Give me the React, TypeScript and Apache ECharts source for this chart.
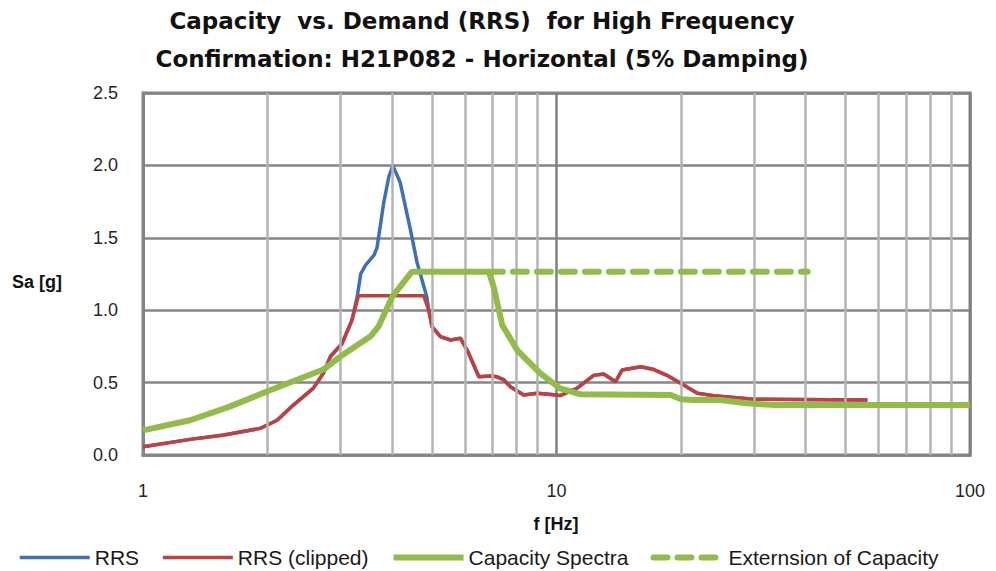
import React, { useEffect, useRef } from "react";
import * as echarts from "echarts";

// RRS (unclipped) response spectrum
const rrsFreq = [1.0, 1.3, 1.57, 1.92, 2.0, 2.11, 2.31, 2.58, 2.73, 2.84, 3.03, 3.2, 3.3, 3.36, 3.45, 3.62, 3.68, 3.82, 3.93, 4.02, 4.19, 4.43, 4.6, 4.86, 4.91, 5.0, 5.24, 5.54, 5.86, 6.08, 6.49, 6.92, 7.18, 7.45, 7.75, 8.33, 8.98, 10.0, 10.2, 11.2, 12.3, 13.0, 13.9, 14.4, 16.0, 17.2, 18.5, 20.3, 21.9, 24.0, 30.0, 56.5];
const rrsVal = [0.057, 0.108, 0.138, 0.184, 0.207, 0.24, 0.345, 0.46, 0.564, 0.68, 0.77, 0.93, 1.1, 1.25, 1.31, 1.38, 1.43, 1.74, 1.92, 2.0, 1.88, 1.56, 1.33, 1.09, 1.0, 0.886, 0.817, 0.794, 0.806, 0.725, 0.54, 0.545, 0.54, 0.52, 0.47, 0.414, 0.426, 0.414, 0.41, 0.46, 0.55, 0.56, 0.506, 0.587, 0.61, 0.59, 0.55, 0.483, 0.426, 0.41, 0.385, 0.38];

// RRS clipped
const clipFreq = [1.0, 1.3, 1.57, 1.92, 2.0, 2.11, 2.31, 2.58, 2.73, 2.84, 3.03, 3.2, 3.32, 4.77, 4.91, 5.0, 5.24, 5.54, 5.86, 6.08, 6.49, 6.92, 7.18, 7.45, 7.75, 8.33, 8.98, 10.0, 10.2, 11.2, 12.3, 13.0, 13.9, 14.4, 16.0, 17.2, 18.5, 20.3, 21.9, 24.0, 30.0, 56.5];
const clipVal = [0.057, 0.108, 0.138, 0.184, 0.207, 0.24, 0.345, 0.46, 0.564, 0.68, 0.77, 0.93, 1.1, 1.1, 1.0, 0.886, 0.817, 0.794, 0.806, 0.725, 0.54, 0.545, 0.54, 0.52, 0.47, 0.414, 0.426, 0.414, 0.41, 0.46, 0.55, 0.56, 0.506, 0.587, 0.61, 0.59, 0.55, 0.483, 0.426, 0.41, 0.385, 0.38];

// Capacity spectra
const capFreq = [1.0, 1.3, 1.62, 2.0, 2.73, 3.0, 3.55, 3.71, 4.0, 4.47, 6.86, 7.05, 7.39, 8.03, 9.14, 10.2, 11.4, 18.9, 20.0, 21.5, 24.9, 28.9, 33.6, 100];
const capVal = [0.17, 0.24, 0.334, 0.44, 0.59, 0.68, 0.82, 0.886, 1.09, 1.266, 1.266, 1.16, 0.898, 0.725, 0.564, 0.46, 0.42, 0.414, 0.385, 0.38, 0.38, 0.357, 0.345, 0.345];

// Extension of capacity
const extFreq = [6.86, 40.5];
const extVal = [1.266, 1.266];

// Minor log gridline positions
const minorFreqs = [2, 3, 4, 5, 6, 7, 8, 9, 20, 30, 40, 50, 60, 70, 80, 90];

const yTicks = [0, 0.5, 1.0, 1.5, 2.0, 2.5];

const titleLines = [
  "Capacity  vs. Demand (RRS)  for High Frequency",
  "Confirmation: H21P082 - Horizontal (5% Damping)",
];

const pairs = (xs: number[], ys: number[]) => xs.map((x, i) => [x, ys[i]]);

export default function App() {
  const ref = useRef<HTMLDivElement>(null);
  useEffect(() => {
    if (!ref.current) return;
    const chart = echarts.init(ref.current, null, { renderer: "svg" });
    const font = "'Liberation Sans', Arial, sans-serif";
    const titleFont = "'DejaVu Sans', 'Liberation Sans', sans-serif";
    chart.setOption({
      animation: false,
      backgroundColor: "#ffffff",
      grid: {
        left: 143,
        right: 26,
        top: 93,
        bottom: 116,
        show: true,
        borderColor: "#858585",
        borderWidth: 3,
        backgroundColor: "transparent",
      },
      graphic: [
        {
          type: "text",
          x: 482,
          y: 21,
          style: {
            text: titleLines[0],
            font: `bold 23px ${titleFont}`,
            fill: "#111111",
            textAlign: "center",
            textVerticalAlign: "middle",
          },
        },
        {
          type: "text",
          x: 482,
          y: 59,
          style: {
            text: titleLines[1],
            font: `bold 23px ${titleFont}`,
            fill: "#111111",
            textAlign: "center",
            textVerticalAlign: "middle",
          },
        },
        {
          type: "text",
          x: 12,
          y: 282,
          style: {
            text: "Sa [g]",
            font: `bold 18px ${font}`,
            fill: "#111111",
            textAlign: "left",
            textVerticalAlign: "middle",
          },
        },
        {
          type: "text",
          x: 556,
          y: 524,
          style: {
            text: "f [Hz]",
            font: `bold 18px ${font}`,
            fill: "#111111",
            textAlign: "center",
            textVerticalAlign: "middle",
          },
        },
      ],
      legend: {
        left: 18,
        top: 547,
        itemWidth: 70,
        itemHeight: 12,
        itemGap: 22,
        padding: 0,
        data: ["RRS", "RRS (clipped)", "Capacity Spectra", "Externsion of Capacity"],
        lineStyle: { width: "inherit" },
        itemStyle: { color: "rgba(0,0,0,0)", borderWidth: 0, opacity: 0 },
        textStyle: { fontFamily: font, fontSize: 21, color: "#1a1a1a", padding: [0, 0, 0, 0] },
      },
      xAxis: {
        type: "log",
        logBase: 10,
        min: 1,
        max: 100,
        axisLine: { show: true, lineStyle: { color: "#858585", width: 3 } },
        axisTick: { show: false },
        axisLabel: { fontFamily: font, fontSize: 18, color: "#262626", margin: 27 },
        splitLine: { show: true, lineStyle: { color: "#808080", width: 2.5 } },
      },
      yAxis: {
        type: "value",
        min: yTicks[0],
        max: yTicks[yTicks.length - 1],
        interval: 0.5,
        axisLine: { show: true, lineStyle: { color: "#858585", width: 3 } },
        axisTick: { show: false },
        axisLabel: {
          fontFamily: font,
          fontSize: 18,
          color: "#262626",
          margin: 25,
          formatter: (v: number) => v.toFixed(1),
        },
        splitLine: { show: true, lineStyle: { color: "#858585", width: 2.5 } },
      },
      series: [
        {
          name: "grid",
          type: "line",
          data: [],
          z: 1,
          silent: true,
          markLine: {
            silent: true,
            symbol: ["none", "none"],
            label: { show: false },
            lineStyle: { color: "#b5b5b5", width: 2.5, type: "solid" },
            data: minorFreqs.map((f) => ({ xAxis: f })),
          },
        },
        {
          name: "RRS",
          type: "line",
          data: pairs(rrsFreq, rrsVal),
          symbol: "none",
          z: 3,
          lineStyle: { color: "#3f6fb5", width: 3.5 },
          itemStyle: { color: "#3f6fb5" },
        },
        {
          name: "RRS (clipped)",
          type: "line",
          data: pairs(clipFreq, clipVal),
          symbol: "none",
          z: 4,
          lineStyle: { color: "#c0403d", width: 3.5 },
          itemStyle: { color: "#c0403d" },
        },
        {
          name: "Capacity Spectra",
          type: "line",
          data: pairs(capFreq, capVal),
          symbol: "none",
          z: 5,
          lineStyle: { color: "#92bb4a", width: 6 },
          itemStyle: { color: "#92bb4a" },
        },
        {
          name: "Externsion of Capacity",
          type: "line",
          data: pairs(extFreq, extVal),
          symbol: "none",
          z: 5,
          lineStyle: { color: "#92bb4a", width: 6, type: [14, 10], cap: "round" },
          itemStyle: { color: "#92bb4a" },
        },
      ],
    });
    return () => chart.dispose();
  }, []);
  return <div ref={ref} style={{ width: 996, height: 571, position: "absolute", left: 0, top: 0 }} />;
}
